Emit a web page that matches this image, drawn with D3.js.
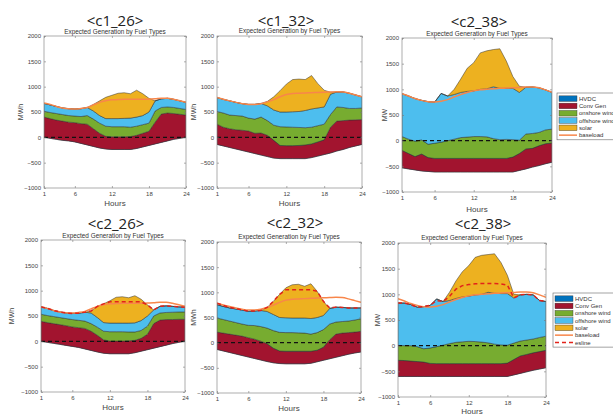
<!DOCTYPE html>
<html lang="en">
<head>
<meta charset="UTF-8">
<title>Expected Generation by Fuel Types</title>
<script src="https://d3js.org/d3.v7.min.js"></script>
<style>
  body { margin: 0; background: #fff; }
  svg { display: block; font-family: "Liberation Sans", Arial, sans-serif; }
</style>
</head>
<body>
<svg id="chart" width="613" height="415"></svg>
<script>
// shared categories and ticks
var hours = [1,2,3,4,5,6,7,8,9,10,11,12,13,14,15,16,17,18,19,20,21,22,23,24];
var xTicks = [1, 6, 12, 18, 24];
var yTicks = [-1000, -500, 0, 500, 1000, 1500, 2000];
var fuels = ["HVDC", "Conv Gen", "onshore wind", "offshore wind", "solar"];

// <c1_26>
var hvdc_c1_26     = [0,-20,-40,-60,-70,-90,-120,-150,-180,-210,-230,-240,-240,-240,-240,-220,-190,-160,-130,-100,-70,-40,-20,0];
var conv_c1_26     = [400,390,380,380,370,380,390,410,350,290,250,250,250,250,255,260,270,280,430,560,550,510,475,440];
var onshore_c1_26  = [115,120,130,130,130,130,140,170,190,200,200,200,200,200,185,180,170,160,220,130,120,120,115,110];
var offshore_c1_26 = [155,150,140,130,135,140,155,160,160,150,150,160,160,165,180,180,180,220,200,170,170,160,150,140];
var solar_c1_26    = [0,0,0,0,0,0,0,0,130,290,420,460,500,505,480,530,430,270,0,0,0,0,0,0];
var base_c1_26     = [680,650,610,580,565,560,570,590,640,690,720,740,745,750,750,750,750,755,760,770,770,750,720,690];

// <c1_32>
var hvdc_c1_32     = [-140,-170,-200,-230,-260,-290,-320,-350,-380,-410,-420,-420,-420,-420,-420,-400,-370,-340,-310,-270,-240,-200,-170,-140];
var conv_c1_32     = [400,370,370,380,400,415,400,435,420,350,260,255,255,260,270,270,280,290,510,590,570,540,515,490];
var onshore_c1_32  = [250,280,270,280,280,255,280,315,290,300,370,370,365,355,340,330,320,310,250,280,260,230,225,230];
var offshore_c1_32 = [275,270,280,260,245,270,290,270,290,300,290,295,305,315,340,360,350,340,400,295,305,300,265,220];
var solar_c1_32    = [0,0,0,0,0,0,0,0,90,260,420,550,635,640,610,660,480,330,40,0,0,0,0,0];
var base_c1_32     = [785,750,720,690,665,650,650,665,700,745,800,845,865,870,875,880,885,890,895,900,895,870,835,800];

// <c2_38> (top row)
var hvdc_c2_38a     = [-530,-550,-570,-590,-600,-610,-610,-610,-610,-610,-610,-610,-610,-610,-610,-610,-610,-610,-580,-550,-515,-485,-450,-420];
var conv_c2_38a     = [340,300,260,330,270,265,265,265,265,265,265,265,265,265,265,265,265,290,330,390,365,385,390,375];
var onshore_c2_38a  = [270,280,300,275,260,295,315,345,375,405,415,425,425,420,385,365,370,340,260,290,290,260,270,270];
var offshore_c2_38a = [835,840,830,770,830,800,950,870,870,880,890,890,920,935,1010,1000,995,1000,930,910,905,870,780,715];
var solar_c2_38a    = [0,0,0,0,0,0,0,0,100,260,450,550,710,740,725,770,530,230,120,0,0,0,0,0];
var base_c2_38      = [915,870,820,785,760,755,770,800,850,900,940,970,990,1000,1010,1020,1025,1030,1035,1045,1045,1030,990,940];

// <c2_26>
var hvdc_c2_26     = [0,-20,-40,-60,-80,-100,-120,-150,-180,-210,-235,-245,-245,-245,-245,-225,-195,-165,-135,-105,-75,-45,-20,0];
var conv_c2_26     = [395,390,390,390,390,385,390,405,380,330,265,250,250,250,255,245,255,305,485,525,505,475,455,435];
var onshore_c2_26  = [140,140,140,140,140,145,145,145,150,160,170,185,185,185,175,165,155,160,150,140,140,145,145,145];
var offshore_c2_26 = [145,140,120,110,110,120,140,175,210,190,170,170,170,170,175,180,195,200,120,130,130,115,100,95];
var solar_c2_26    = [0,0,0,0,0,0,0,0,40,220,370,440,510,520,500,535,420,220,0,0,0,0,0,0];
var es_c2_26       = [680,650,610,580,560,550,555,575,600,690,740,780,780,780,780,780,780,720,620,690,700,690,680,675];

// <c2_32>
var hvdc_c2_32     = [-135,-165,-195,-225,-255,-285,-315,-345,-375,-400,-415,-420,-420,-420,-420,-410,-380,-350,-320,-290,-260,-230,-205,-185];
var conv_c2_32     = [345,355,365,375,385,385,385,375,355,290,250,250,250,250,250,240,230,260,380,460,450,430,415,410];
var onshore_c2_32  = [280,270,260,250,240,245,270,290,310,350,370,370,370,365,360,340,350,350,310,240,230,230,240,250];
var offshore_c2_32 = [265,260,260,270,280,280,290,320,330,320,295,295,290,295,300,310,300,280,310,295,280,260,240,215];
var solar_c2_32    = [0,0,0,0,0,0,0,0,80,260,460,595,660,670,630,690,520,280,0,0,0,0,0,0];
var es_c2_32       = [785,740,700,680,650,625,630,640,700,820,960,1050,1050,1050,1050,1050,1020,820,690,705,700,690,690,690];

// <c2_38> (bottom row)
var hvdc_c2_38b     = [-600,-600,-600,-600,-600,-600,-600,-600,-600,-600,-600,-600,-600,-600,-600,-600,-600,-600,-570,-540,-510,-480,-455,-430];
var conv_c2_38b     = [315,310,300,290,280,255,250,250,250,250,250,250,250,250,250,250,250,260,300,340,340,340,340,340];
var onshore_c2_38b  = [290,290,300,290,260,300,330,360,390,415,425,435,430,420,405,380,365,350,320,290,280,270,275,275];
var offshore_c2_38b = [825,830,800,770,820,830,930,850,840,855,875,880,910,930,985,990,1000,1005,880,900,890,860,720,675];
var solar_c2_38b    = [0,0,0,0,0,0,0,0,160,340,490,595,730,760,735,770,605,355,70,0,0,0,0,0];
var es_c2_38b       = [830,830,800,750,760,785,880,860,960,1100,1170,1190,1205,1210,1210,1210,1205,1180,930,990,1000,990,880,860];

var fuelColors = ["#0072BD", "#A2142F", "#77AC30", "#4DBEEE", "#EDB120"];
var baseColor = "#F8864A";
var esColor = "#E2231A";

// ty = title baseline
var panels = [
  { title: "<c1_26>", unit: "MWh", left: 44, right: 186, top: 36, bottom: 188, tx: 115, ty: 26, sy: 32, hy: 203, ly: 21,
    series: [hvdc_c1_26, conv_c1_26, onshore_c1_26, offshore_c1_26, solar_c1_26], base: base_c1_26 },
  { title: "<c1_32>", unit: "MWh", left: 217, right: 362, top: 36, bottom: 188, tx: 286, ty: 26, sy: 31, hy: 203, ly: 194,
    series: [hvdc_c1_32, conv_c1_32, onshore_c1_32, offshore_c1_32, solar_c1_32], base: base_c1_32 },
  { title: "<c2_38>", unit: "MW", left: 402, right: 552, top: 38, bottom: 192, tx: 479, ty: 27, sy: 34, hy: 209, ly: 385,
    series: [hvdc_c2_38a, conv_c2_38a, onshore_c2_38a, offshore_c2_38a, solar_c2_38a], base: base_c2_38,
    legend: { x: 557, y: 93 } },
  { title: "<c2_26>", unit: "MWh", left: 41, right: 185, top: 240, bottom: 392, tx: 116, ty: 229, sy: 236, hy: 407, ly: 12,
    series: [hvdc_c2_26, conv_c2_26, onshore_c2_26, offshore_c2_26, solar_c2_26], base: base_c1_26, es: es_c2_26 },
  { title: "<c2_32>", unit: "MWh", left: 217, right: 361, top: 242, bottom: 393, tx: 295, ty: 228, sy: 237, hy: 408, ly: 194,
    series: [hvdc_c2_32, conv_c2_32, onshore_c2_32, offshore_c2_32, solar_c2_32], base: base_c1_32, es: es_c2_32 },
  { title: "<c2_38>", unit: "MW", left: 398, right: 546, top: 243, bottom: 397, tx: 483, ty: 229, sy: 238, hy: 411, ly: 378,
    series: [hvdc_c2_38b, conv_c2_38b, onshore_c2_38b, offshore_c2_38b, solar_c2_38b], base: base_c2_38, es: es_c2_38b,
    legend: { x: 553, y: 293 } }
];

var svg = d3.select("#chart");
svg.append("rect").attr("width", 613).attr("height", 415).attr("fill", "#fff");
var defs = svg.append("defs");

function drawPanel(p, idx) {
  var x = d3.scaleLinear().domain([1, 24]).range([p.left, p.right]);
  var y = d3.scaleLinear().domain([-1000, 2000]).range([p.bottom, p.top]);

  // one row per hour, stacked cumulatively like MATLAB area()
  var rows = hours.map(function(h, i) {
    var r = { hour: h };
    fuels.forEach(function(f, k) { r[f] = p.series[k][i]; });
    return r;
  });
  var layers = d3.stack().keys(fuels).offset(d3.stackOffsetNone)(rows);

  var clipId = "clip" + idx;
  defs.append("clipPath").attr("id", clipId)
      .append("rect").attr("x", p.left).attr("y", p.top)
      .attr("width", p.right - p.left).attr("height", p.bottom - p.top);

  var g = svg.append("g");
  var plot = g.append("g").attr("clip-path", "url(#" + clipId + ")");

  var area = d3.area()
      .x(function(d) { return x(d.data.hour); })
      .y0(function(d) { return y(d[0]); })
      .y1(function(d) { return y(d[1]); });

  plot.selectAll("path.layer")
      .data(layers)
      .join("path")
      .attr("class", "layer")
      .attr("d", area)
      .attr("fill", function(d, i) { return fuelColors[i]; })
      .attr("stroke", "#333")
      .attr("stroke-width", 0.5)
      .attr("stroke-linejoin", "round");

  // zero line
  plot.append("line")
      .attr("x1", p.left).attr("x2", p.right)
      .attr("y1", y(0)).attr("y2", y(0))
      .attr("stroke", "#111").attr("stroke-width", 1.2)
      .attr("stroke-dasharray", "4,3");

  var line = d3.line()
      .x(function(d, i) { return x(hours[i]); })
      .y(function(d) { return y(d); })
      .curve(d3.curveMonotoneX);

  plot.append("path")
      .attr("d", line(p.base))
      .attr("fill", "none")
      .attr("stroke", baseColor)
      .attr("stroke-width", 1.5);

  if (p.es) {
    plot.append("path")
        .attr("d", d3.line().x(function(d, i) { return x(hours[i]); }).y(function(d) { return y(d); })(p.es))
        .attr("fill", "none")
        .attr("stroke", esColor)
        .attr("stroke-width", 1.5)
        .attr("stroke-dasharray", "4,3");
  }

  // axes, ticks pointing inward
  var fmt = d3.format("d");
  var axL = g.append("g").attr("transform", "translate(" + p.left + ",0)")
      .call(d3.axisLeft(y).tickValues(yTicks).tickFormat(fmt).tickSize(-2).tickPadding(3));
  var axB = g.append("g").attr("transform", "translate(0," + p.bottom + ")")
      .call(d3.axisBottom(x).tickValues(xTicks).tickFormat(fmt).tickSize(-2).tickPadding(4));
  var axR = g.append("g").attr("transform", "translate(" + p.right + ",0)")
      .call(d3.axisRight(y).tickValues(yTicks).tickSize(-2).tickFormat(""));
  var axT = g.append("g").attr("transform", "translate(0," + p.top + ")")
      .call(d3.axisTop(x).tickValues(xTicks).tickSize(-2).tickFormat(""));
  [axL, axB, axR, axT].forEach(function(a) {
    a.select(".domain").remove();
    a.selectAll("line").attr("stroke", "#777").attr("stroke-width", 0.6);
    a.selectAll("text").attr("font-size", 6).attr("fill", "#444")
        .attr("font-family", "Liberation Sans, Arial, sans-serif");
  });
  g.append("rect")
      .attr("x", p.left).attr("y", p.top)
      .attr("width", p.right - p.left).attr("height", p.bottom - p.top)
      .attr("fill", "none").attr("stroke", "#8a8a8a").attr("stroke-width", 0.7);

  // titles and labels
  var cx = (p.left + p.right) / 2;
  g.append("text").attr("x", p.tx).attr("y", p.ty)
      .attr("text-anchor", "middle").attr("font-size", 15)
      .attr("font-family", "Open Sans, Noto Sans, sans-serif").attr("fill", "#222")
      .text(p.title);
  g.append("text").attr("x", cx).attr("y", p.sy).attr("dy", "0.35em")
      .attr("text-anchor", "middle").attr("font-size", 6.4).attr("fill", "#333")
      .text("Expected Generation by Fuel Types");
  g.append("text").attr("x", cx).attr("y", p.hy).attr("dy", "0.35em")
      .attr("text-anchor", "middle").attr("font-size", 8).attr("fill", "#444")
      .text("Hours");
  g.append("text")
      .attr("transform", "translate(" + p.ly + "," + ((p.top + p.bottom) / 2) + ") rotate(-90)")
      .attr("dy", "0.35em").attr("text-anchor", "middle").attr("font-size", 7).attr("fill", "#444")
      .text(p.unit);

  if (p.legend) drawLegend(p);
}

function drawLegend(p) {
  var items = fuels.map(function(f, i) { return { label: f, kind: "box", color: fuelColors[i] }; });
  items.push({ label: "baseload", kind: "line", color: baseColor });
  if (p.es) items.push({ label: "esline", kind: "dash", color: esColor });
  var step = 7.3;
  var lg = svg.append("g").attr("transform", "translate(" + p.legend.x + "," + p.legend.y + ")");
  lg.append("rect").attr("width", 70).attr("height", items.length * step + 3)
      .attr("fill", "#fff").attr("stroke", "#666").attr("stroke-width", 0.6);
  var row = lg.selectAll("g.item").data(items).join("g")
      .attr("class", "item")
      .attr("transform", function(d, i) { return "translate(2," + (2 + i * step + step / 2) + ")"; });
  row.filter(function(d) { return d.kind === "box"; })
      .append("rect").attr("x", 0).attr("y", -2.8).attr("width", 18).attr("height", 5.6)
      .attr("fill", function(d) { return d.color; }).attr("stroke", "#333").attr("stroke-width", 0.4);
  row.filter(function(d) { return d.kind !== "box"; })
      .append("line").attr("x1", 0).attr("x2", 18)
      .attr("stroke", function(d) { return d.color; }).attr("stroke-width", 1.5)
      .attr("stroke-dasharray", function(d) { return d.kind === "dash" ? "4,3" : null; });
  row.append("text").attr("x", 20).attr("dy", "0.35em")
      .attr("font-size", 6).attr("fill", "#333")
      .text(function(d) { return d.label; });
}

panels.forEach(drawPanel);
</script>
</body>
</html>
